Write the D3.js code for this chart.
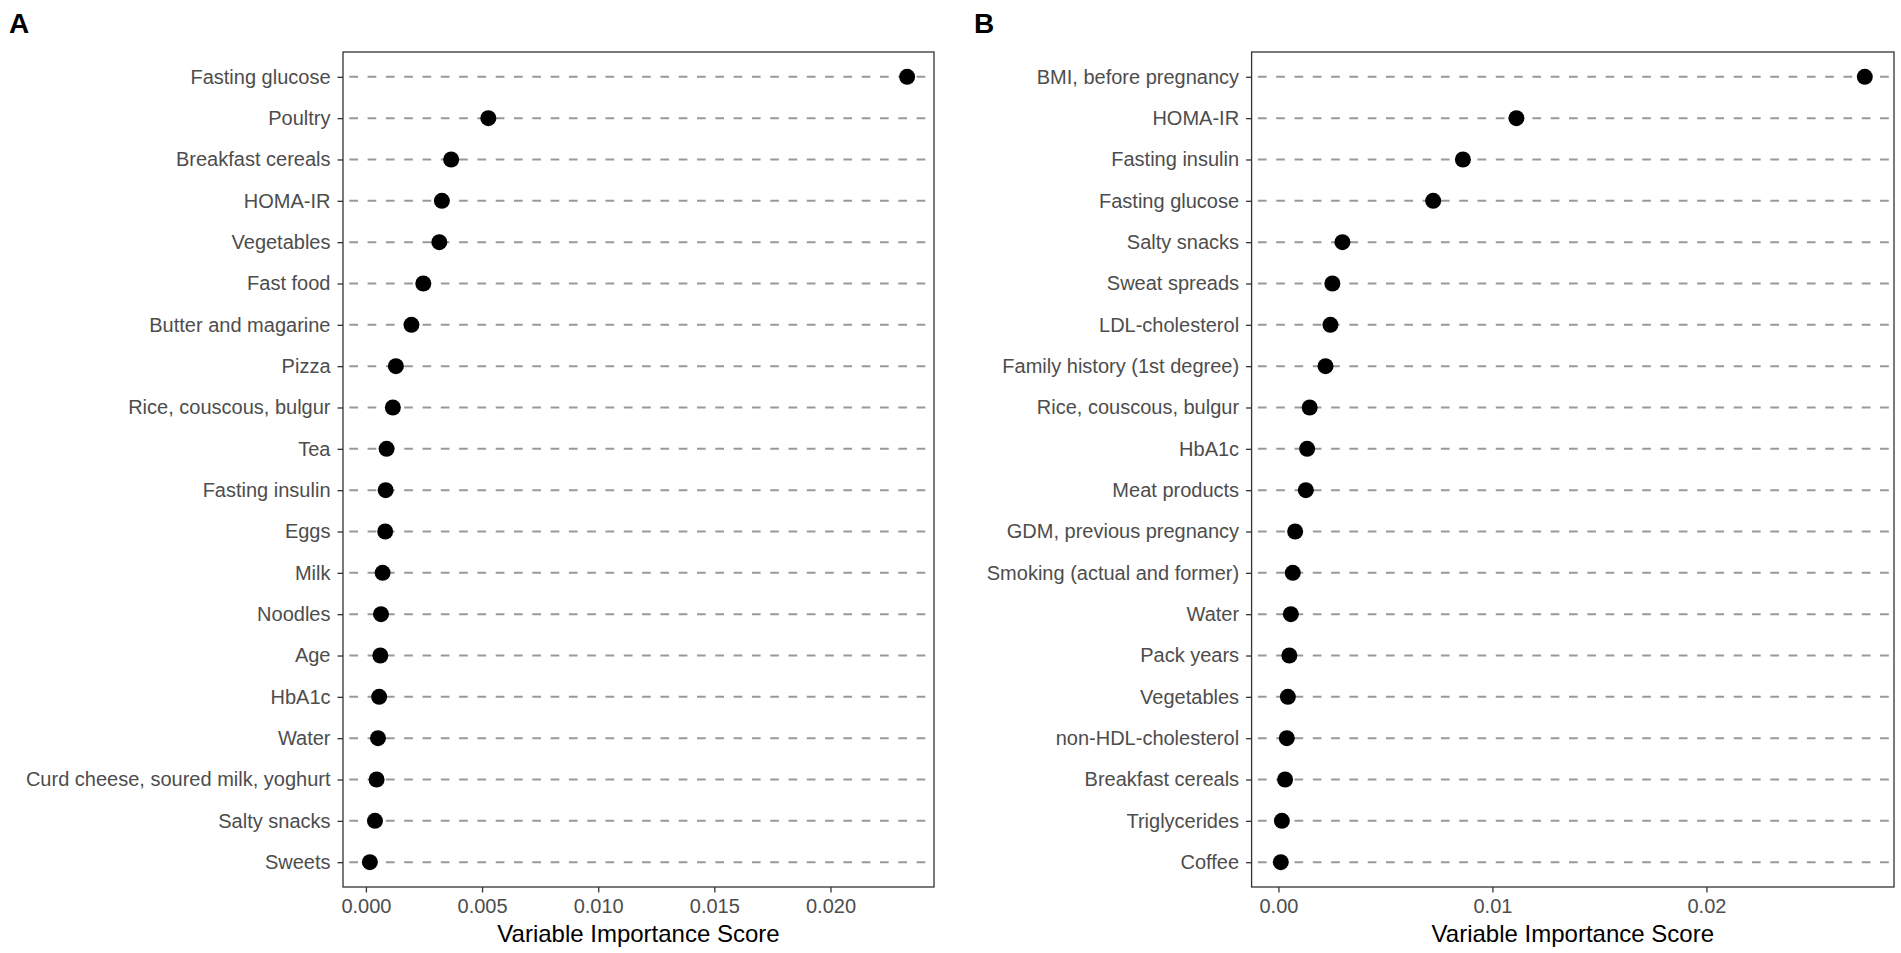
<!DOCTYPE html>
<html>
<head>
<meta charset="utf-8">
<script src="https://cdn.jsdelivr.net/npm/d3@7"></script>
<style>
  body { margin: 0; background: #fff; }
  text { font-family: "Liberation Sans", Arial, sans-serif; }
</style>
</head>
<body>
<script>
var w = 1901;
var h = 953;

// panel A: variables, top to bottom
var labelsA = ['Fasting glucose', 'Poultry', 'Breakfast cereals', 'HOMA-IR', 'Vegetables',
  'Fast food', 'Butter and magarine', 'Pizza', 'Rice, couscous, bulgur', 'Tea',
  'Fasting insulin', 'Eggs', 'Milk', 'Noodles', 'Age', 'HbA1c', 'Water',
  'Curd cheese, soured milk, yoghurt', 'Salty snacks', 'Sweets'];
var valuesA = [0.0233, 0.00527, 0.00367, 0.00327, 0.00316, 0.00247, 0.00196, 0.00129, 0.00116, 0.00089,
  0.00085, 0.00083, 0.00072, 0.00065, 0.00062, 0.00057, 0.00052, 0.00046, 0.00039, 0.00017];
var ticksA = [0, 0.005, 0.010, 0.015, 0.020];

// panel B
var labelsB = ['BMI, before pregnancy', 'HOMA-IR', 'Fasting insulin', 'Fasting glucose', 'Salty snacks',
  'Sweat spreads', 'LDL-cholesterol', 'Family history (1st degree)', 'Rice, couscous, bulgur', 'HbA1c',
  'Meat products', 'GDM, previous pregnancy', 'Smoking (actual and former)', 'Water', 'Pack years',
  'Vegetables', 'non-HDL-cholesterol', 'Breakfast cereals', 'Triglycerides', 'Coffee'];
var valuesB = [0.0274, 0.01112, 0.00862, 0.00723, 0.00299, 0.00252, 0.00243, 0.0022, 0.00146, 0.00134,
  0.00128, 0.00078, 0.00067, 0.00058, 0.00051, 0.00044, 0.00039, 0.00031, 0.00016, 0.00011];
var ticksB = [0, 0.01, 0.02];

var xTitle = 'Variable Importance Score';

var svg = d3.select('body').append('svg').attr('width', w).attr('height', h);

/**
 * draw one dot panel
 * @param {object} p  panel box and data
 */
function drawPanel(p) {
  var g = svg.append('g');
  var lo = d3.min(p.values), hi = d3.max(p.values);
  var pad = (hi - lo) * 0.05; // ggplot default expansion

  var x = d3.scaleLinear()
    .domain([lo - pad, hi + pad])
    .range([p.left, p.right]);

  var y = d3.scalePoint()
    .domain(p.labels)
    .range([p.top, p.bottom])
    .padding(0.6);

  // dashed guide lines
  g.selectAll('line.guide')
    .data(p.labels)
    .enter()
    .append('line')
    .attr('class', 'guide')
    .attr('x1', p.left)
    .attr('x2', p.right)
    .attr('y1', function (d) { return y(d); })
    .attr('y2', function (d) { return y(d); })
    .style('stroke', '#999999')
    .style('stroke-width', 2)
    .style('stroke-dasharray', '8.7,9.6')
    .style('stroke-dashoffset', 12);

  // dots
  g.selectAll('circle.dot')
    .data(p.values)
    .enter()
    .append('circle')
    .attr('class', 'dot')
    .attr('cx', function (d) { return x(d); })
    .attr('cy', function (d, i) { return y(p.labels[i]); })
    .attr('r', 8)
    .style('fill', '#000');

  // border
  g.append('rect')
    .attr('x', p.left)
    .attr('y', p.top)
    .attr('width', p.right - p.left)
    .attr('height', p.bottom - p.top)
    .style('fill', 'none')
    .style('stroke', '#333')
    .style('stroke-width', 1.3);

  var ya = g.append('g')
    .attr('transform', 'translate(' + p.left + ',0)')
    .call(d3.axisLeft(y).tickSize(5.5).tickPadding(7));
  var xa = g.append('g')
    .attr('transform', 'translate(0,' + p.bottom + ')')
    .call(d3.axisBottom(x).tickValues(p.ticks).tickFormat(d3.format(p.fmt)).tickSize(5.5).tickPadding(6));

  [ya, xa].forEach(function (a) {
    a.select('.domain').remove();
    a.selectAll('.tick line').style('stroke', '#333').style('stroke-width', 1.3);
    a.selectAll('.tick text')
      .style('fill', '#4D4D4D')
      .style('font-size', '20px')
      .style('font-family', '"Liberation Sans", Arial, sans-serif');
  });

  g.append('text')
    .text(xTitle)
    .attr('x', (p.left + p.right) / 2)
    .attr('y', 942)
    .attr('text-anchor', 'middle')
    .style('font-size', '24px')
    .style('fill', '#000');

  g.append('text')
    .text(p.tag)
    .attr('x', p.tagX)
    .attr('y', 33)
    .style('font-size', '28px')
    .style('font-weight', 'bold')
    .style('fill', '#000');
}

drawPanel({ tag: 'A', tagX: 9, left: 343, right: 934, top: 52, bottom: 887,
  labels: labelsA, values: valuesA, ticks: ticksA, fmt: '.3f' });
drawPanel({ tag: 'B', tagX: 974, left: 1251.6, right: 1894, top: 52, bottom: 887,
  labels: labelsB, values: valuesB, ticks: ticksB, fmt: '.2f' });
</script>
</body>
</html>
